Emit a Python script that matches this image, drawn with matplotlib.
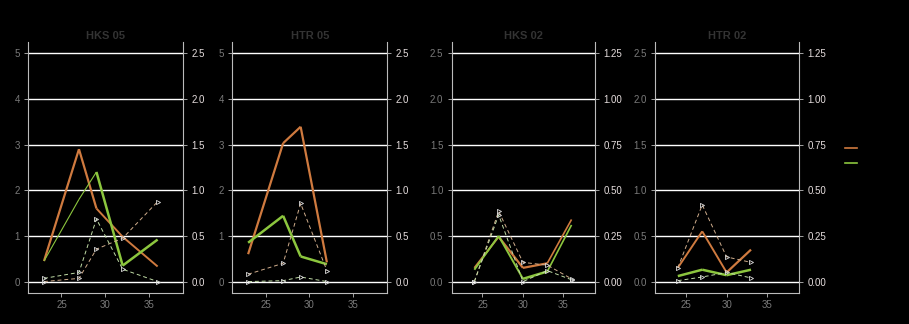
import numpy as np
import matplotlib.pyplot as plt

plt.rcParams['font.family'] = ['Liberation Sans', 'DejaVu Sans']

#panel titles
titles = ["HKS 05", "HTR 05", "HKS 02", "HTR 02"]

#x positions of the samples per panel
x_vals = [[23, 27, 29, 32, 36],
          [23, 27, 29, 32],
          [24, 27, 30, 33, 36],
          [24, 27, 30, 33]]

#solid lines (left axis units)
orange_solid = [[0.45, 2.9, 1.6, 0.98, 0.33],
                [0.6, 3.03, 3.39, 0.42],
                [0.15, 0.49, 0.15, 0.2, 0.68],
                [0.15, 0.55, 0.1, 0.35]]
green_solid = [[0.45, 1.8, 2.4, 0.35, 0.92],
               [0.85, 1.44, 0.55, 0.38],
               [0.13, 0.5, 0.03, 0.11, 0.62],
               [0.06, 0.13, 0.07, 0.13]]

#dashed lines (right axis units, = left/2)
orange_dashed = [[0.0, 0.035, 0.355, 0.475, 0.875],
                 [0.08, 0.2, 0.855, 0.12],
                 [0.0, 0.385, 0.105, 0.09, 0.015],
                 [0.075, 0.42, 0.135, 0.105]]
green_dashed = [[0.035, 0.1, 0.685, 0.135, 0.0],
                [0.0, 0.01, 0.05, 0.0],
                [0.0, 0.365, 0.0, 0.06, 0.01],
                [0.005, 0.025, 0.05, 0.02]]

left_max = [5, 5, 2.5, 2.5]
left_ticks = [[0, 1, 2, 3, 4, 5], [0, 1, 2, 3, 4, 5],
              [0, 0.5, 1.0, 1.5, 2.0, 2.5], [0, 0.5, 1.0, 1.5, 2.0, 2.5]]
right_ticks = [[0, 0.5, 1.0, 1.5, 2.0, 2.5], [0, 0.5, 1.0, 1.5, 2.0, 2.5],
               [0, 0.25, 0.5, 0.75, 1.0, 1.25], [0, 0.25, 0.5, 0.75, 1.0, 1.25]]
left_fmt = ["{:.0f}", "{:.0f}", "{:.1f}", "{:.1f}"]
right_fmt = ["{:.1f}", "{:.1f}", "{:.2f}", "{:.2f}"]
x_ticks = [25, 30, 35]
legend_labels = ["Series A", "Series B"]

#per-segment widths of the solid lines
orange_w = [[1.6, 1.6, 1.4, 1.4], [1.6, 1.6, 1.6], [1.4, 1.6, 1.6, 1.2], [1.4, 1.4, 1.6]]
green_w = [[0.8, 0.8, 1.8, 1.8], [1.8, 1.8, 1.8], [1.4, 1.4, 1.8, 1.2], [1.8, 1.8, 1.8]]

c_orange = "#cf7a3f"
c_green = "#8cc63e"
c_orange_d = "#d0ad8c"
c_green_d = "#c0dca6"
c_mark = "#dddddd"

fig = plt.figure(figsize=(9.09, 3.24), dpi=100, facecolor="black")
boxes = [(0.0311, 0.2013), (0.2556, 0.4261), (0.4969, 0.6546), (0.7206, 0.8790)]
bottom, top = 0.0957, 0.871

def draw_segments(ax, x, y, widths, color):
    for j in range(len(x) - 1):
        ax.plot(x[j:j+2], y[j:j+2], color=color, linewidth=widths[j],
                solid_capstyle="butt", zorder=3)

for i in range(4):
    l, r = boxes[i]
    ax = fig.add_axes([l, bottom, r - l, top - bottom])
    ax.set_facecolor("black")
    ym = left_max[i]

    #grid lines
    for t in left_ticks[i]:
        ax.axhline(t, color="white", linewidth=1.0, zorder=1)

    x = x_vals[i]
    draw_segments(ax, x, orange_solid[i], orange_w[i], c_orange)
    draw_segments(ax, x, green_solid[i], green_w[i], c_green)
    ax.plot(x, np.array(orange_dashed[i]) * 2, color=c_orange_d, linewidth=0.7,
            linestyle=(0, (4, 3)), marker=">", markersize=3, markerfacecolor="none",
            markeredgecolor=c_mark, markeredgewidth=0.6, zorder=4)
    ax.plot(x, np.array(green_dashed[i]) * 2, color=c_green_d, linewidth=0.7,
            linestyle=(0, (4, 3)), marker=">", markersize=3, markerfacecolor="none",
            markeredgecolor=c_mark, markeredgewidth=0.6, zorder=4)

    ax.set_xlim(21.2, 38.9)
    ax.set_ylim(-0.05 * ym, 1.05 * ym)
    ax.set_xticks(x_ticks)
    ax.set_yticks(left_ticks[i])
    ax.set_yticklabels([left_fmt[i].format(t) for t in left_ticks[i]])
    ax.tick_params(axis="x", colors="#bbbbbb", labelcolor="#7a7a7a", labelsize=7,
                   length=3, width=0.6, pad=2)
    ax.tick_params(axis="y", colors="#bbbbbb", labelcolor="#7a7a7a", labelsize=7,
                   length=3, width=0.6, pad=3)
    for s in ["left", "bottom"]:
        ax.spines[s].set_color("#bbbbbb")
        ax.spines[s].set_linewidth(0.8)
    ax.spines["top"].set_visible(False)
    ax.spines["right"].set_visible(False)

    sec = ax.secondary_yaxis("right", functions=(lambda v: v / 2, lambda v: v * 2))
    sec.set_yticks(right_ticks[i])
    sec.set_yticklabels([right_fmt[i].format(t) for t in right_ticks[i]])
    sec.tick_params(colors="#bbbbbb", labelcolor="#e6dede", labelsize=7,
                    length=3, width=0.6, pad=3)
    sec.spines["right"].set_color("#bbbbbb")
    sec.spines["right"].set_linewidth(0.8)

    ax.set_title(titles[i], color="#333333", fontsize=8, fontweight="bold", pad=2)

#legend on the right
h1, = plt.plot([], [], color=c_orange, linewidth=1.2)
h2, = plt.plot([], [], color=c_green, linewidth=1.2)
leg = fig.legend([h1, h2], legend_labels, loc="center left", bbox_to_anchor=(0.92, 0.52),
                 frameon=False, fontsize=7, handlelength=1.2, labelcolor="black")

fig.savefig("out.png", dpi=100, facecolor="black")
